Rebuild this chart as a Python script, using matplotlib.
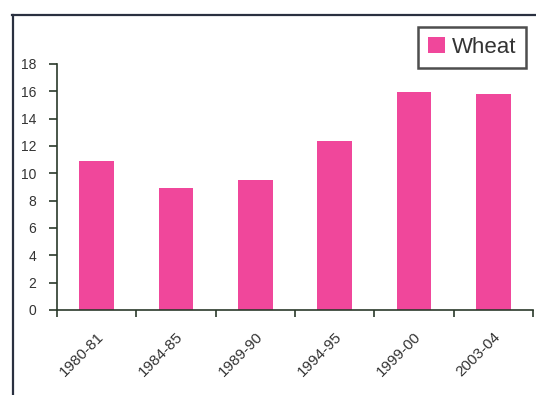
import matplotlib
matplotlib.use("Agg")
import matplotlib.pyplot as plt
from matplotlib.lines import Line2D
import numpy as np

periods = ["1980-81", "1984-85", "1989-90", "1994-95", "1999-00", "2003-04"]
wheat = [10.9, 8.9, 9.5, 12.4, 15.95, 15.8]
y_ticks = [0, 2, 4, 6, 8, 10, 12, 14, 16, 18]

plt.rcParams['font.family'] = ['Liberation Sans', 'DejaVu Sans']

fig = plt.figure(figsize=(5.36, 3.95), dpi=100)
ax = fig.add_axes([0.1063, 0.2152, 0.888, 0.6228])

x = np.arange(len(periods))
ax.bar(x, wheat, width=0.44, color='#F0479B', label='Wheat', zorder=2)

ax.set_xlim(-0.5, len(periods) - 0.5)
ax.set_ylim(0, 18)
ax.set_yticks(y_ticks)
ax.set_yticklabels([str(v) for v in y_ticks], fontsize=10, color='#333333')

# category labels sit under bar centres; tick marks sit between categories
ax.set_xticks(x)
ax.set_xticklabels(periods, rotation=45, ha='right', va='top', fontsize=11,
                   color='#333333', rotation_mode='anchor')
ax.tick_params(axis='x', which='major', length=0, pad=14)
ax.set_xticks(np.arange(-0.5, len(periods) + 0.5, 1.0), minor=True)
ax.tick_params(axis='x', which='minor', length=5, width=1.2, color='#2b3a2b', direction='out')
ax.tick_params(axis='y', length=6, width=1.2, color='#2b3a2b', pad=9)

for side in ('top', 'right'):
    ax.spines[side].set_visible(False)
ax.spines['left'].set_color('#2b3a2b')
ax.spines['left'].set_linewidth(1.2)
ax.spines['bottom'].set_color('#2b3a2b')
ax.spines['bottom'].set_linewidth(1.2)

leg = ax.legend(loc='upper right', bbox_to_anchor=(0.9853, 1.150), fontsize=16,
                frameon=True, fancybox=False, handlelength=0.75, handleheight=0.75,
                handletextpad=0.3, borderpad=0.45, borderaxespad=0,
                labelcolor='#333333')
leg.get_frame().set_edgecolor('#222222')
leg.get_frame().set_linewidth(1.8)

# outer chart frame
fig.add_artist(Line2D([12 / 536, 1.0], [1 - 15 / 395, 1 - 15 / 395],
                      transform=fig.transFigure, color='#2a3040', linewidth=1.6))
fig.add_artist(Line2D([13 / 536, 13 / 536], [1 - 15 / 395, 0.0],
                      transform=fig.transFigure, color='#2a3040', linewidth=1.6))

fig.savefig('out.png', dpi=100)
